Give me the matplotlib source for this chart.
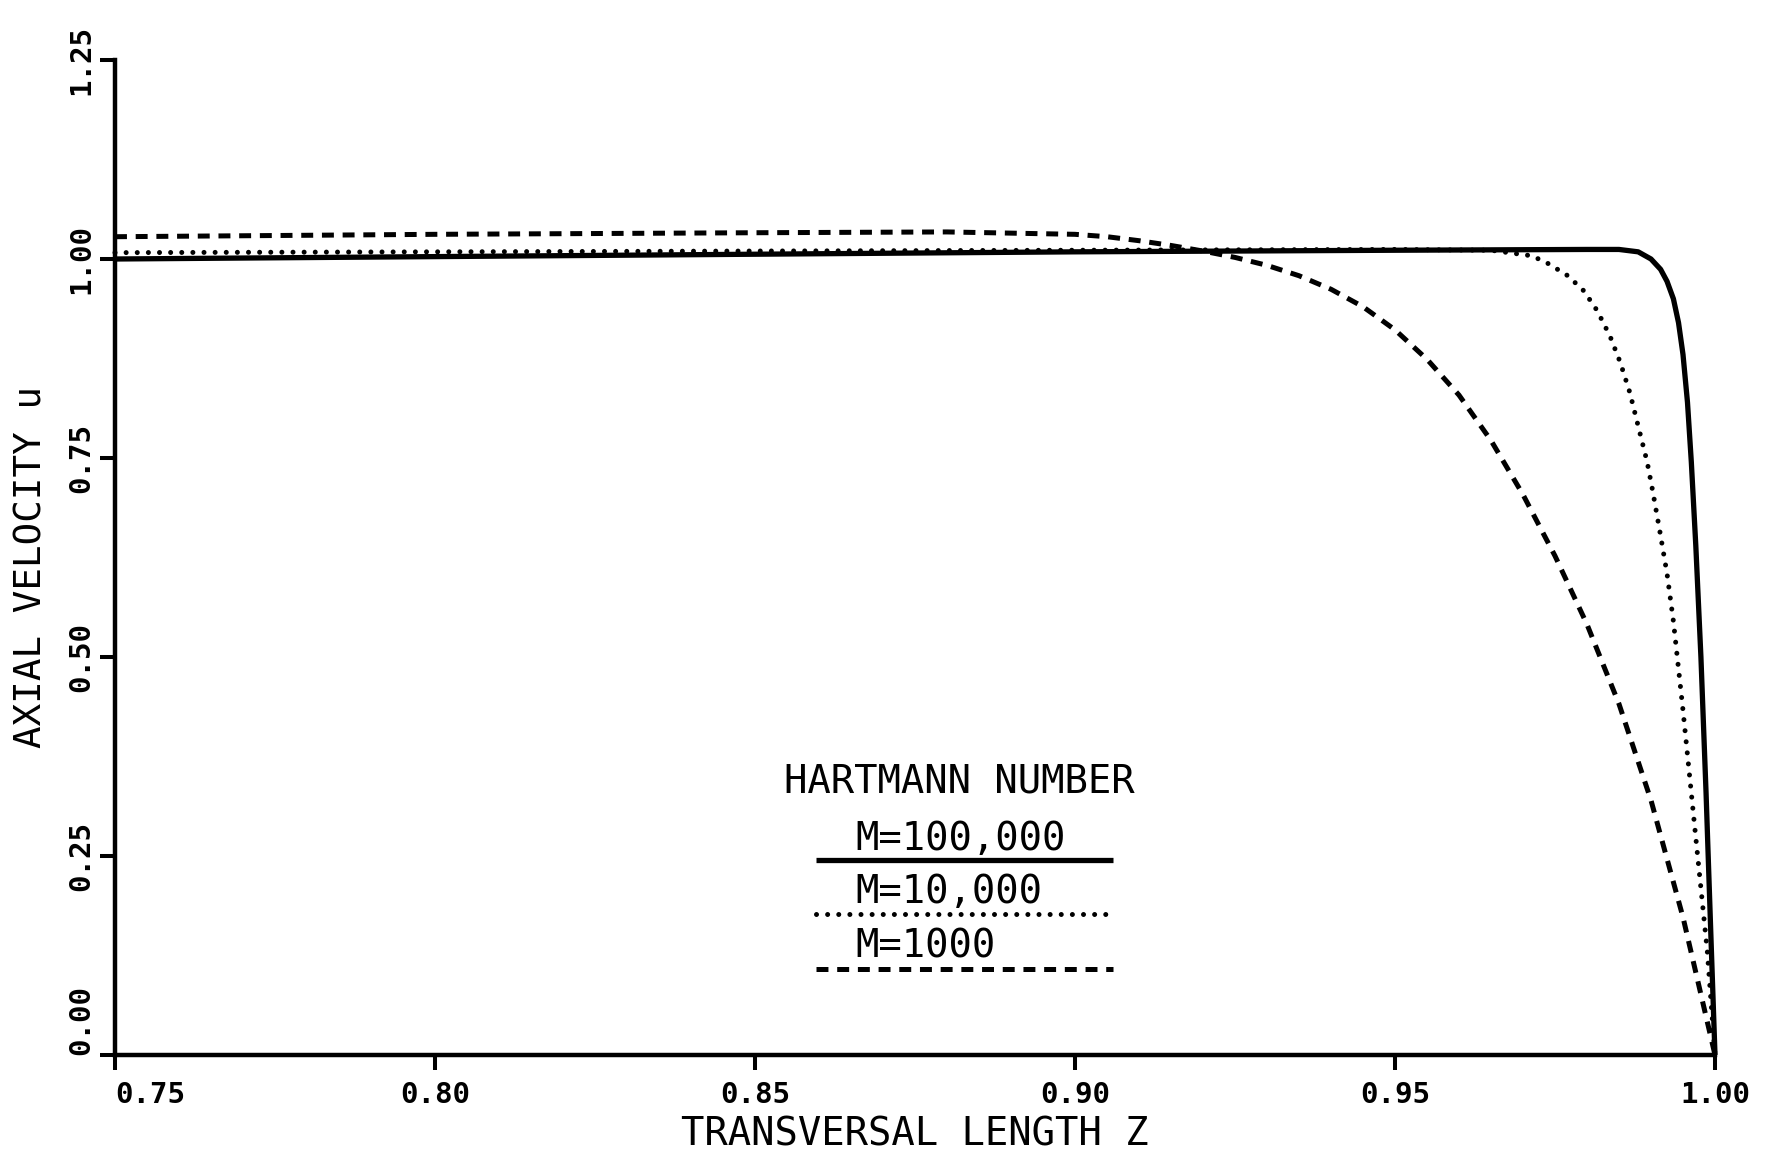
import matplotlib
matplotlib.use("Agg")
import matplotlib.pyplot as plt

plt.rcParams['lines.scale_dashes'] = False

# ---------------- data ----------------
z_m100000 = [0.75, 0.80, 0.85, 0.90, 0.95, 0.980, 0.985, 0.988, 0.990, 0.9915,
             0.9925, 0.9935, 0.9943, 0.9950, 0.9957, 0.9963, 0.9970, 0.9978,
             0.9986, 0.9994, 1.0]
u_m100000 = [1.000, 1.003, 1.006, 1.009, 1.011, 1.012, 1.012, 1.009, 1.000, 0.987,
             0.972, 0.950, 0.920, 0.880, 0.820, 0.745, 0.640, 0.500,
             0.330, 0.140, 0.0]

z_m10000 = [0.75, 0.85, 0.95, 0.965, 0.9714, 0.974, 0.977, 0.9795, 0.9816, 0.9836,
            0.9852, 0.9867, 0.9880, 0.9894, 0.9903, 0.9914, 0.9925, 0.9935, 0.9950,
            0.9972, 0.9988, 1.0]
u_m10000 = [1.008, 1.010, 1.012, 1.011, 1.004, 0.994, 0.979, 0.960, 0.935, 0.903,
            0.870, 0.832, 0.790, 0.745, 0.707, 0.657, 0.605, 0.545, 0.433,
            0.257, 0.130, 0.0]

z_m1000 = [0.75, 0.80, 0.85, 0.88, 0.900, 0.905, 0.910, 0.915, 0.920, 0.925, 0.930,
           0.935, 0.940, 0.945, 0.950, 0.955, 0.960, 0.965, 0.970, 0.975, 0.980,
           0.985, 0.990, 0.995, 1.000]
u_m1000 = [1.028, 1.031, 1.033, 1.034, 1.031, 1.028, 1.023, 1.017, 1.010, 1.002, 0.992,
           0.979, 0.962, 0.940, 0.911, 0.874, 0.829, 0.772, 0.704, 0.627, 0.541,
           0.441, 0.320, 0.173, 0.0]

x_ticks = [0.75, 0.80, 0.85, 0.90, 0.95, 1.00]
x_tick_labels = ["0.75", "0.80", "0.85", "0.90", "0.95", "1.00"]
y_ticks = [0.00, 0.25, 0.50, 0.75, 1.00, 1.25]
y_tick_labels = ["0.00", "0.25", "0.50", "0.75", "1.00", "1.25"]

legend_title = "HARTMANN NUMBER"
legend_labels = ["M=100,000", "M=10,000", "M=1000"]

# ---------------- figure ----------------
W, H = 1771, 1160
fig = plt.figure(figsize=(W / 100, H / 100), dpi=100)
ax = fig.add_axes([115 / W, 105 / H, 1600 / W, 995 / H])

FONT = "DejaVu Sans Mono"
solid_kw = dict(color="black", lw=3.8, solid_capstyle="butt", solid_joinstyle="round")
dot_kw = dict(color="black", lw=3.6, dashes=(0.01, 8.0), dash_capstyle="round")
dash_kw = dict(color="black", lw=3.6, dashes=(8.6, 6.3), dash_capstyle="butt")

ax.plot(z_m1000, u_m1000, clip_on=False, **dash_kw)
ax.plot(z_m10000, u_m10000, clip_on=False, **dot_kw)
ax.plot(z_m100000, u_m100000, clip_on=False, **solid_kw)

ax.set_xlim(0.75, 1.00)
ax.set_ylim(0.0, 1.25)

for s in ["top", "right"]:
    ax.spines[s].set_visible(False)
for s in ["left", "bottom"]:
    ax.spines[s].set_linewidth(3.2)

ax.tick_params(axis="both", direction="out", length=11, width=2.9)
ax.tick_params(axis="x", pad=8)
ax.tick_params(axis="y", pad=3)

ax.set_xticks(x_ticks)
ax.set_xticklabels(x_tick_labels, fontfamily=FONT, fontweight="bold", fontsize=21)
ax.set_yticks(y_ticks)
ax.set_yticklabels(y_tick_labels, fontfamily=FONT, fontweight="bold", fontsize=21,
                   rotation=90, va="center")
xl = ax.get_xticklabels()
xl[0].set_ha("left")
yl = ax.get_yticklabels()
yl[0].set_va("bottom")

ax.set_xlabel("TRANSVERSAL LENGTH Z", fontfamily=FONT, fontsize=28)
ax.xaxis.set_label_coords(0.5, -0.08)
ax.xaxis.label.set_va("center")
ax.set_ylabel("AXIAL VELOCITY u", fontfamily=FONT, fontsize=27)
ax.yaxis.set_label_coords(-0.052, 0.49)
ax.yaxis.label.set_va("center")

# ---------------- legend block (axes-fraction layout) ----------------
tx = ax.transAxes
ax.text(0.528, 0.275, legend_title, transform=tx, fontfamily=FONT, fontsize=28,
        ha="center", va="center")
label_x = 0.463
label_y = [0.217, 0.164, 0.109]
line_y = [0.196, 0.142, 0.086]
line_x0, line_x1 = 0.438, 0.624
styles = [solid_kw, dot_kw, dash_kw]
for lab, ly, sy, st in zip(legend_labels, label_y, line_y, styles):
    ax.text(label_x, ly, lab, transform=tx, fontfamily=FONT, fontsize=28,
            ha="left", va="center")
    ax.plot([line_x0, line_x1], [sy, sy], transform=tx, clip_on=False, **st)

fig.savefig("out.png", dpi=100)
